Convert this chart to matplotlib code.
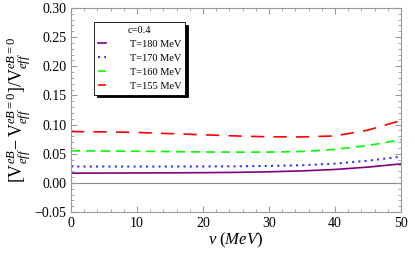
import numpy as np
import matplotlib as mpl
mpl.use('Agg')
import matplotlib.pyplot as plt
from matplotlib.ticker import MultipleLocator

plt.rcParams['font.family'] = ['Liberation Serif', 'DejaVu Serif']
plt.rcParams['mathtext.fontset'] = 'custom'
plt.rcParams['mathtext.rm'] = 'Liberation Serif'
plt.rcParams['mathtext.it'] = 'Liberation Serif:italic'

# data
v = [0, 5, 10, 15, 20, 25, 30, 35, 40, 45, 50]
r_180 = [0.0167, 0.0168, 0.0170, 0.0172, 0.0175, 0.0180, 0.0190, 0.0205, 0.0230, 0.0270, 0.0326]
r_170 = [0.0280, 0.0280, 0.0280, 0.0280, 0.0281, 0.0284, 0.0290, 0.0302, 0.0330, 0.0380, 0.0450]
r_160 = [0.0550, 0.0547, 0.0542, 0.0536, 0.0530, 0.0527, 0.0528, 0.0538, 0.0575, 0.0640, 0.0740]
r_155 = [0.0880, 0.0875, 0.0865, 0.0845, 0.0825, 0.0805, 0.0790, 0.0788, 0.0805, 0.0905, 0.1070]
labels = ['T=180 MeV', 'T=170 MeV', 'T=160 MeV', 'T=155 MeV']

fig = plt.figure(figsize=(4.15, 2.58), dpi=100)
ax = fig.add_axes([71/415, 1-212/258, 330/415, 204/258])

ax.axhline(0, color='#888888', lw=0.8, zorder=1)
ax.plot(v, r_180, color=(0.5, 0, 0.5), lw=1.2, label=labels[0])
ax.plot(v, r_170, color=(0.2, 0.2, 1), lw=1.5, ls=(0, (1, 2)), label=labels[1])
ax.plot(v, r_160, color=(0, 1, 0), lw=1.2, ls=(0, (5.5, 3.5)), label=labels[2])
ax.plot(v, r_155, color=(1, 0, 0), lw=1.2, ls=(0, (8, 5.5)), label=labels[3])

ax.set_xlim(0, 50)
ax.set_ylim(-0.05, 0.30)
ax.xaxis.set_major_locator(MultipleLocator(10))
ax.xaxis.set_minor_locator(MultipleLocator(2))
ax.yaxis.set_major_locator(MultipleLocator(0.05))
ax.yaxis.set_minor_locator(MultipleLocator(0.01))
ax.yaxis.set_major_formatter(mpl.ticker.FuncFormatter(lambda y, p: ('\u2212' if y < -1e-9 else '') + '%.2f' % abs(y)))
ax.tick_params(which='both', direction='in', top=True, right=True, colors='#999999', labelcolor='black', labelsize=10)
ax.tick_params(which='major', length=4)
ax.tick_params(which='minor', length=2)
for s in ax.spines.values():
    s.set_color('#999999')

ax.set_xlabel(r'$\it{v\ (MeV)}$', fontsize=12, labelpad=1)
ax.set_ylabel(r'$[\mathrm{V}_{\it{eff}}^{\it{eB}}\!-\mathrm{V}_{\it{eff}}^{\it{eB=0}}]/\mathrm{V}_{\it{eff}}^{\it{eB=0}}$', fontsize=13, labelpad=1)

leg = ax.legend(title='c=0.4', loc='upper left', bbox_to_anchor=(23/330, 1-14.5/204), fontsize=7.5,
                title_fontsize=7.5, frameon=True, fancybox=False, shadow={'color': 'black', 'alpha': 1},
                handlelength=0.8, borderpad=0.35, labelspacing=0.45, handletextpad=2.3, borderaxespad=0)
leg.get_frame().set_edgecolor('black')
leg.get_frame().set_linewidth(0.6)
leg.get_frame().set_alpha(1)

fig.savefig('out.png', dpi=100)
